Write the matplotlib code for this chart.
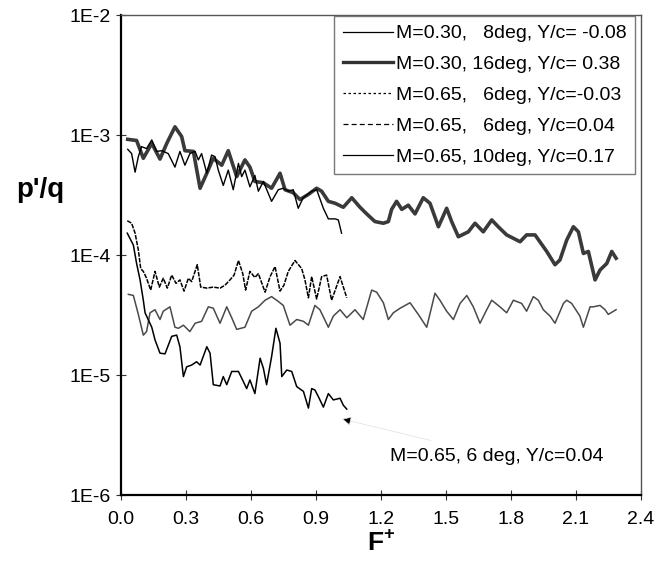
import matplotlib.pyplot as plt
from matplotlib.lines import Line2D

plt.rcParams['font.family'] = ['Liberation Sans', 'DejaVu Sans']
plt.rcParams['mathtext.fontset'] = 'custom'
plt.rcParams['mathtext.rm'] = 'Liberation Sans:bold'
plt.rcParams['mathtext.bf'] = 'Liberation Sans:bold'

# M=0.30, 8deg, Y/c=-0.08  (thin grey)
f_m30_8 = [0.034, 0.057, 0.080, 0.103, 0.118, 0.134, 0.157, 0.180, 0.195, 0.226,
           0.249, 0.265, 0.288, 0.318, 0.342, 0.372, 0.403, 0.426, 0.457, 0.488,
           0.511, 0.534, 0.572, 0.603, 0.634, 0.665, 0.695, 0.726, 0.749, 0.780,
           0.811, 0.842, 0.865, 0.895, 0.918, 0.957, 0.980, 1.011, 1.042, 1.080,
           1.118, 1.157, 1.180, 1.211, 1.234, 1.257, 1.288, 1.334, 1.372, 1.411,
           1.449, 1.472, 1.503, 1.534, 1.565, 1.596, 1.626, 1.657, 1.688, 1.711,
           1.749, 1.780, 1.811, 1.849, 1.872, 1.903, 1.926, 1.949, 1.980, 2.003,
           2.042, 2.057, 2.080, 2.118, 2.134, 2.165, 2.180, 2.211, 2.234, 2.249, 2.285]
p_m30_8 = [4.7e-5, 4.6e-5, 3.2e-5, 2.15e-5, 2.3e-5, 3.3e-5, 3.5e-5, 2.9e-5, 3.4e-5, 3.7e-5,
           2.5e-5, 2.45e-5, 2.6e-5, 2.3e-5, 2.7e-5, 2.8e-5, 3.7e-5, 3.6e-5, 2.7e-5, 3.7e-5,
           3.0e-5, 2.4e-5, 2.5e-5, 3.4e-5, 3.7e-5, 4.2e-5, 4.5e-5, 4.1e-5, 3.8e-5, 2.6e-5,
           2.9e-5, 2.8e-5, 2.6e-5, 3.8e-5, 3.5e-5, 2.5e-5, 3.1e-5, 3.5e-5, 3.0e-5, 3.5e-5,
           2.9e-5, 5.1e-5, 4.9e-5, 4.0e-5, 2.9e-5, 3.3e-5, 3.6e-5, 4.0e-5, 3.2e-5, 2.5e-5,
           4.8e-5, 4.2e-5, 3.4e-5, 2.9e-5, 3.95e-5, 4.6e-5, 3.7e-5, 2.7e-5, 3.5e-5, 4.2e-5,
           3.7e-5, 3.3e-5, 4.2e-5, 3.95e-5, 3.4e-5, 4.5e-5, 4.2e-5, 3.5e-5, 3.1e-5, 2.7e-5,
           3.95e-5, 4.2e-5, 3.95e-5, 3.1e-5, 2.5e-5, 3.7e-5, 3.7e-5, 3.8e-5, 3.5e-5, 3.2e-5, 3.5e-5]

# M=0.30, 16deg, Y/c=0.38  (thick dark grey)
f_m30_16 = [0.031, 0.072, 0.103, 0.142, 0.180, 0.211, 0.249, 0.280, 0.295, 0.334,
            0.365, 0.396, 0.426, 0.465, 0.495, 0.534, 0.572, 0.595, 0.618, 0.657,
            0.695, 0.734, 0.757, 0.795, 0.826, 0.865, 0.903, 0.926, 0.957, 0.988,
            1.026, 1.065, 1.103, 1.134, 1.172, 1.211, 1.234, 1.249, 1.272, 1.296,
            1.326, 1.357, 1.395, 1.426, 1.465, 1.503, 1.526, 1.557, 1.603, 1.634,
            1.672, 1.711, 1.741, 1.780, 1.842, 1.872, 1.911, 1.965, 2.003, 2.026,
            2.057, 2.088, 2.111, 2.134, 2.157, 2.188, 2.211, 2.242, 2.265, 2.285]
p_m30_16 = [9.2e-4, 9.0e-4, 6.4e-4, 8.5e-4, 6.3e-4, 8.5e-4, 1.17e-3, 9.7e-4, 7.4e-4, 7.3e-4,
            3.6e-4, 4.8e-4, 6.4e-4, 5.6e-4, 7.4e-4, 4.5e-4, 6.2e-4, 5.4e-4, 4.1e-4, 4.0e-4,
            3.6e-4, 4.8e-4, 3.5e-4, 3.3e-4, 2.9e-4, 3.2e-4, 3.6e-4, 3.4e-4, 2.8e-4, 2.7e-4,
            2.5e-4, 3.0e-4, 2.5e-4, 2.2e-4, 1.9e-4, 1.84e-4, 1.9e-4, 2.4e-4, 2.8e-4, 2.4e-4,
            2.6e-4, 2.2e-4, 3.0e-4, 2.7e-4, 1.72e-4, 2.45e-4, 1.9e-4, 1.42e-4, 1.56e-4, 1.84e-4,
            1.56e-4, 1.96e-4, 1.72e-4, 1.47e-4, 1.29e-4, 1.47e-4, 1.47e-4, 1.07e-4, 8.3e-5, 9.1e-5,
            1.33e-4, 1.72e-4, 1.56e-4, 1.03e-4, 1.07e-4, 6.2e-5, 7.5e-5, 8.5e-5, 1.07e-4, 9.4e-5]

# M=0.65, 6deg, Y/c=-0.03  (dotted)
f_m65_6a = [0.029, 0.049, 0.065, 0.080, 0.091, 0.103, 0.118, 0.137, 0.157, 0.177,
            0.195, 0.214, 0.234, 0.254, 0.272, 0.291, 0.311, 0.326, 0.352, 0.368,
            0.396, 0.426, 0.457, 0.480, 0.503, 0.522, 0.542, 0.562, 0.575, 0.595,
            0.618, 0.634, 0.665, 0.688, 0.711, 0.734, 0.752, 0.772, 0.803, 0.834,
            0.849, 0.865, 0.880, 0.903, 0.926, 0.949, 0.972, 1.011, 1.042]
p_m65_6a = [1.93e-4, 1.84e-4, 1.52e-4, 1.1e-4, 7.7e-5, 7.3e-5, 6.4e-5, 5.1e-5, 7.3e-5, 5.4e-5,
            6.4e-5, 5.3e-5, 6.8e-5, 5.8e-5, 6.2e-5, 5.0e-5, 6.4e-5, 6.0e-5, 8.3e-5, 5.4e-5,
            5.3e-5, 5.4e-5, 5.3e-5, 5.6e-5, 6.2e-5, 6.8e-5, 9.0e-5, 7.0e-5, 5.1e-5, 7.3e-5,
            6.5e-5, 7.0e-5, 4.9e-5, 6.6e-5, 8.0e-5, 5.0e-5, 5.6e-5, 7.3e-5, 9.0e-5, 7.7e-5,
            6.2e-5, 4.4e-5, 6.6e-5, 4.3e-5, 6.6e-5, 6.8e-5, 4.2e-5, 6.6e-5, 4.4e-5]

# M=0.65, 6deg, Y/c=0.04  (lowest curve)
f_m65_6b = [0.029, 0.057, 0.072, 0.088, 0.103, 0.111, 0.142, 0.157, 0.180, 0.203,
            0.234, 0.257, 0.272, 0.288, 0.303, 0.326, 0.349, 0.365, 0.396, 0.411,
            0.426, 0.457, 0.472, 0.488, 0.511, 0.542, 0.565, 0.580, 0.595, 0.618,
            0.642, 0.657, 0.672, 0.695, 0.715, 0.734, 0.742, 0.765, 0.788, 0.811,
            0.842, 0.865, 0.880, 0.895, 0.911, 0.934, 0.957, 0.980, 1.011, 1.026, 1.042]
p_m65_6b = [1.52e-4, 1.21e-4, 8.5e-5, 6.2e-5, 4.2e-5, 3.3e-5, 2.5e-5, 1.96e-5, 1.52e-5, 1.5e-5,
            2.1e-5, 2.15e-5, 1.72e-5, 9.7e-6, 1.17e-5, 1.21e-5, 1.29e-5, 1.21e-5, 1.72e-5, 1.52e-5,
            8.3e-6, 8.1e-6, 9.7e-6, 8.3e-6, 1.07e-5, 1.07e-5, 8.8e-6, 7.7e-6, 9.1e-6, 7.0e-6,
            1.38e-5, 1.14e-5, 8.3e-6, 1.42e-5, 2.45e-5, 1.84e-5, 9.7e-6, 1.1e-5, 1.07e-5, 8.0e-6,
            7.3e-6, 5.3e-6, 7.7e-6, 7.5e-6, 6.6e-6, 5.4e-6, 7.0e-6, 6.2e-6, 6.4e-6, 5.6e-6, 5.2e-6]

# M=0.65, 10deg, Y/c=0.17  (thin black, upper)
f_m65_10 = [0.031, 0.049, 0.065, 0.080, 0.095, 0.118, 0.142, 0.165, 0.188, 0.218,
            0.249, 0.272, 0.295, 0.318, 0.342, 0.357, 0.372, 0.396, 0.418, 0.434,
            0.449, 0.472, 0.495, 0.518, 0.542, 0.557, 0.572, 0.595, 0.618, 0.634,
            0.657, 0.695, 0.726, 0.749, 0.772, 0.795, 0.818, 0.841, 0.880, 0.903,
            0.934, 0.957, 0.988, 1.003, 1.018]
p_m65_10 = [7.6e-4, 7.0e-4, 4.9e-4, 6.6e-4, 8.0e-4, 7.7e-4, 9.1e-4, 7.3e-4, 7.4e-4, 7.0e-4,
            5.4e-4, 7.3e-4, 5.6e-4, 7.0e-4, 7.3e-4, 6.2e-4, 7.0e-4, 4.8e-4, 6.8e-4, 6.6e-4,
            5.1e-4, 3.8e-4, 5.1e-4, 3.5e-4, 5.8e-4, 4.5e-4, 5.1e-4, 3.7e-4, 4.6e-4, 3.4e-4,
            4.1e-4, 2.8e-4, 3.5e-4, 3.6e-4, 3.4e-4, 3.5e-4, 2.45e-4, 3.0e-4, 3.4e-4, 3.5e-4,
            2.45e-4, 2.0e-4, 2.0e-4, 1.96e-4, 1.52e-4]

labels = ["M=0.30,   8deg, Y/c= -0.08",
          "M=0.30, 16deg, Y/c= 0.38",
          "M=0.65,   6deg, Y/c=-0.03",
          "M=0.65,   6deg, Y/c=0.04",
          "M=0.65, 10deg, Y/c=0.17"]

x_ticks = [0.0, 0.3, 0.6, 0.9, 1.2, 1.5, 1.8, 2.1, 2.4]
y_ticks = [1e-6, 1e-5, 1e-4, 1e-3, 1e-2]
y_ticklabels = ["1E-6", "1E-5", "1E-4", "1E-3", "1E-2"]

fig = plt.figure(figsize=(6.7, 5.61), dpi=100)
ax = fig.add_axes([121/670, 1 - 495/561, 520/670, 480/561])

ax.plot(f_m30_8, p_m30_8, color="#4a4a4a", lw=1.1)
ax.plot(f_m30_16, p_m30_16, color="#3a3a3a", lw=2.6)
ax.plot(f_m65_6a, p_m65_6a, color="black", lw=1.1, linestyle=(0, (3, 0.8)))
ax.plot(f_m65_6b, p_m65_6b, color="black", lw=1.1)
ax.plot(f_m65_10, p_m65_10, color="black", lw=1.0)

ax.set_yscale("log")
ax.set_xlim(0, 2.4)
ax.set_ylim(1e-6, 1e-2)
ax.set_xticks(x_ticks)
ax.set_xticklabels([f"{v:.1f}" for v in x_ticks])
ax.set_yticks(y_ticks)
ax.set_yticklabels(y_ticklabels)
ax.minorticks_off()
ax.tick_params(direction="inout", length=6.5, width=0.8, color="#333333",
               labelsize=14, colors="black")
ax.tick_params(axis="x", pad=8)
ax.tick_params(axis="y", pad=4)

for s in ["left", "bottom"]:
    ax.spines[s].set_linewidth(1.6)
    ax.spines[s].set_color("black")
for s in ["top", "right"]:
    ax.spines[s].set_linewidth(1.0)
    ax.spines[s].set_color("#555555")

handles = [Line2D([], [], color="black", lw=0.9),
           Line2D([], [], color="#333333", lw=2.4),
           Line2D([], [], color="black", lw=0.9, linestyle=(0, (2, 2))),
           Line2D([], [], color="black", lw=0.9, linestyle=(0, (4, 2.5))),
           Line2D([], [], color="black", lw=0.9)]
leg = ax.legend(handles, labels, loc="upper right", bbox_to_anchor=(0.9885, 0.998),
                borderaxespad=0, fontsize=14, handlelength=2.6, handletextpad=0.12,
                labelspacing=0.68, borderpad=0.45, fancybox=False,
                framealpha=1, edgecolor="#777777")
leg.get_frame().set_linewidth(1.0)

ax.annotate("M=0.65, 6 deg, Y/c=0.04", xy=(1.02, 4.3e-6), xytext=(1.24, 2.1e-6),
            fontsize=14, va="center", ha="left",
            arrowprops=dict(arrowstyle="-|>", mutation_scale=14, lw=0.5,
                            edgecolor="#e0e0e0", facecolor="black",
                            shrinkA=14, shrinkB=0))

fig.text(40/670, 1 - 190/561, "p'/q", fontsize=20, fontweight="bold",
         ha="center", va="center")
ax.set_xlabel(r"F$^{+}$", fontsize=19, fontweight="bold", labelpad=2)

fig.savefig("out.png", dpi=100)
